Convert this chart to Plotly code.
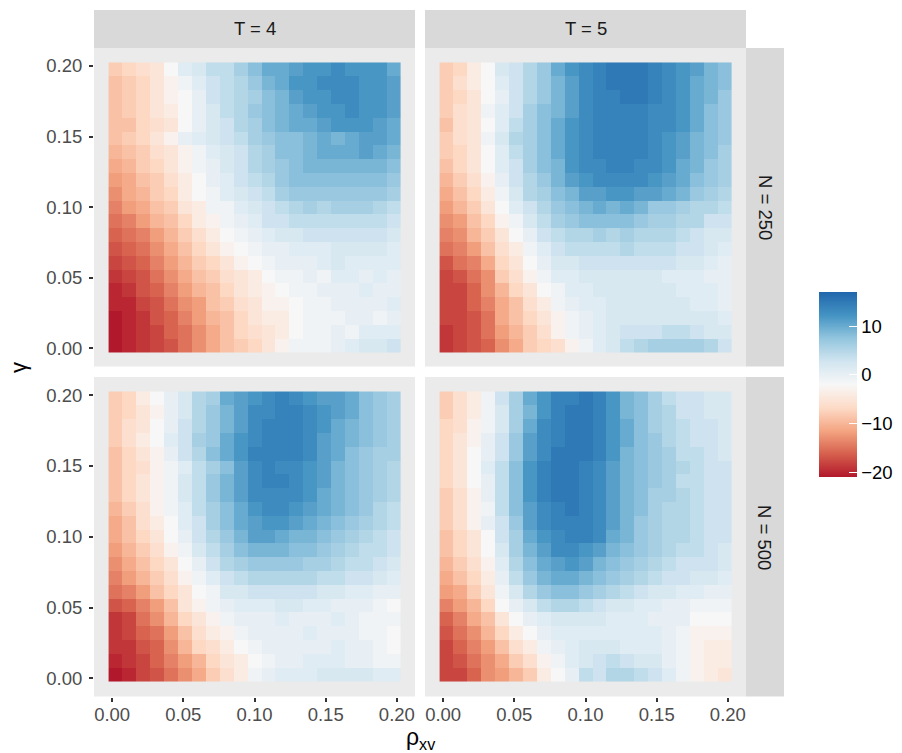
import numpy as np
import plotly.graph_objects as go

rho = [round(i * 0.01, 2) for i in range(21)]
gamma = [round(0.20 - i * 0.01, 2) for i in range(21)]

t4_n250 = [
[-8,-7,-6,-5,-2,1,2,4,4,6,8,10,10,11,12,12,13,12,12,12,10],
[-9,-8,-7,-5,-3,-1,1,3,4,5,7,9,10,12,12,13,13,13,12,12,11],
[-9,-8,-7,-5,-3,-2,0,3,4,5,6,8,9,11,12,12,13,13,12,12,11],
[-9,-8,-7,-5,-4,-2,0,2,4,5,7,8,9,10,11,12,12,13,12,12,11],
[-9,-9,-7,-6,-5,-2,0,2,3,5,6,8,9,10,10,11,12,12,12,11,10],
[-9,-8,-7,-5,-3,0,1,2,3,4,6,7,8,8,9,10,9,10,11,11,10],
[-10,-9,-8,-6,-5,-3,-1,1,2,3,5,6,8,8,9,10,10,10,11,10,9],
[-11,-10,-8,-7,-5,-3,-1,0,2,3,5,6,7,8,9,9,9,9,9,9,8],
[-12,-11,-9,-8,-6,-4,-2,0,1,3,4,5,7,8,8,8,8,8,8,8,7],
[-13,-11,-10,-8,-7,-4,-2,-1,1,2,3,4,6,7,7,7,7,7,7,7,6],
[-14,-12,-11,-9,-8,-5,-4,-1,-1,1,2,3,4,5,6,5,6,6,6,5,4],
[-15,-14,-12,-10,-9,-7,-4,-3,-1,0,1,3,3,4,4,4,4,4,4,4,3],
[-16,-15,-14,-12,-10,-8,-6,-4,-2,-1,0,1,2,2,3,3,3,3,3,3,2],
[-17,-16,-15,-13,-11,-9,-7,-5,-3,-2,-1,0,0,1,1,1,2,2,2,2,1],
[-18,-17,-16,-14,-12,-10,-8,-7,-5,-3,-2,-1,0,0,0,1,2,1,1,1,1],
[-19,-18,-17,-15,-13,-11,-9,-8,-6,-5,-4,-2,-1,-1,0,-1,1,1,0,1,0],
[-20,-19,-17,-16,-14,-12,-10,-9,-7,-5,-4,-3,-2,-1,-1,0,0,0,1,0,0],
[-20,-20,-18,-17,-15,-13,-12,-9,-8,-6,-5,-3,-3,-2,-1,-1,0,0,0,0,1],
[-21,-20,-19,-17,-16,-14,-12,-10,-9,-7,-5,-4,-4,-2,-1,-1,-1,0,0,-1,0],
[-21,-20,-19,-18,-16,-15,-13,-11,-9,-7,-6,-5,-4,-2,-1,-1,0,-1,1,1,1],
[-21,-20,-19,-18,-17,-15,-13,-11,-9,-8,-7,-5,-3,-1,-1,-1,0,1,2,2,3],
]

t5_n250 = [
[-8,-7,-4,-2,2,3,5,7,10,12,13,14,15,15,15,14,13,12,11,9,8],
[-8,-6,-4,-2,1,3,5,7,9,11,13,14,15,15,15,14,13,12,10,9,8],
[-8,-7,-5,-2,0,3,5,7,9,11,13,14,14,15,15,14,13,12,10,9,7],
[-8,-6,-5,-1,1,3,6,8,9,11,13,14,14,14,14,13,13,12,10,8,7],
[-9,-6,-5,-2,1,4,6,8,10,12,13,14,14,14,14,13,13,12,10,8,7],
[-8,-6,-5,-1,2,5,6,8,10,12,13,14,14,14,14,13,12,11,9,8,7],
[-8,-7,-5,-2,1,4,6,8,10,12,13,14,14,14,14,13,12,11,9,8,6],
[-9,-7,-5,-2,1,3,6,8,9,12,13,13,14,14,13,13,12,10,9,7,6],
[-10,-8,-6,-3,0,3,5,7,9,11,12,13,13,13,13,12,11,10,8,7,6],
[-11,-9,-7,-4,-1,2,5,6,8,9,11,11,12,12,11,11,10,9,7,6,5],
[-12,-10,-8,-5,-2,1,3,5,7,8,9,10,9,10,9,7,7,6,5,5,4],
[-13,-12,-9,-7,-3,-1,2,4,6,7,8,8,8,8,7,6,6,5,5,3,3],
[-14,-13,-10,-8,-5,-2,0,3,4,5,5,6,5,6,5,5,5,4,3,2,2],
[-15,-14,-12,-9,-6,-4,-1,1,3,4,4,4,4,5,4,4,4,3,3,2,1],
[-17,-15,-14,-11,-7,-5,-2,0,2,2,3,3,3,3,3,3,3,2,2,1,0],
[-18,-17,-15,-13,-8,-6,-3,-1,1,1,2,2,2,2,2,2,1,1,1,0,0],
[-18,-18,-16,-13,-10,-7,-5,-2,-1,1,1,2,2,2,2,2,2,1,1,1,0],
[-18,-18,-16,-14,-11,-9,-6,-4,-1,0,1,1,2,2,2,2,2,2,1,1,0],
[-18,-18,-17,-15,-11,-9,-7,-5,-3,-1,0,1,2,2,2,2,2,2,2,2,1],
[-19,-18,-17,-15,-12,-10,-8,-6,-3,-1,0,1,2,3,3,3,4,4,3,2,2],
[-19,-18,-17,-16,-13,-11,-8,-7,-6,-3,-1,1,2,4,5,6,6,6,6,5,3],
]

t4_n500 = [
[-8,-7,-4,-2,0,2,5,6,10,11,12,13,14,13,12,11,11,10,8,7,6],
[-8,-7,-5,-3,0,2,5,7,9,11,13,13,14,14,13,12,11,10,8,7,6],
[-8,-6,-5,-2,0,3,5,7,9,11,13,14,14,14,13,12,10,9,8,7,6],
[-8,-6,-4,-2,1,3,6,7,10,12,13,14,14,14,13,11,10,9,8,7,6],
[-9,-7,-5,-3,0,3,5,8,10,12,14,14,14,14,13,11,10,8,7,6,6],
[-9,-7,-6,-3,-1,1,4,6,8,11,13,14,13,13,12,11,9,8,7,6,5],
[-9,-7,-5,-3,-1,2,4,7,9,11,13,14,14,13,12,11,9,8,7,6,5],
[-9,-7,-5,-3,-1,2,4,7,9,11,13,13,13,13,12,10,9,8,7,6,5],
[-10,-8,-6,-3,-1,1,4,6,8,10,12,13,13,12,11,10,9,8,7,5,4],
[-11,-9,-6,-4,-2,1,3,6,8,10,11,12,12,11,10,9,8,7,6,5,4],
[-11,-9,-7,-5,-2,0,3,5,7,9,11,11,10,9,9,8,7,6,5,4,3],
[-12,-10,-8,-6,-3,-1,2,4,6,8,9,9,9,8,8,7,6,5,4,4,3],
[-13,-11,-9,-7,-5,-2,0,3,5,6,7,7,7,7,6,6,5,4,4,3,2],
[-14,-12,-10,-8,-6,-3,-1,1,3,4,5,5,5,5,5,4,4,3,3,2,1],
[-15,-14,-12,-9,-7,-5,-2,-1,2,2,3,3,3,3,3,2,2,1,1,0,0],
[-17,-16,-14,-12,-9,-5,-3,-1,0,1,1,1,2,2,1,1,0,0,0,-1,-2],
[-19,-18,-15,-13,-10,-7,-5,-3,-1,0,0,0,1,0,0,0,1,0,-1,-1,-1],
[-19,-18,-16,-15,-12,-9,-6,-4,-3,-1,0,0,0,0,1,0,0,0,-1,-1,-2],
[-19,-19,-17,-16,-13,-10,-7,-6,-4,-2,-1,0,0,0,0,0,1,0,0,-1,-2],
[-20,-19,-18,-16,-14,-12,-10,-7,-5,-4,-2,-1,0,0,1,1,1,0,0,-1,-1],
[-21,-20,-18,-17,-15,-13,-11,-8,-6,-4,-1,0,1,1,1,2,2,2,2,1,1],
]

t5_n500 = [
[-8,-6,-4,-1,3,6,10,12,14,14,15,14,12,9,8,6,4,3,3,2,2],
[-8,-6,-4,-1,2,6,9,12,14,15,15,14,12,9,8,6,5,3,3,2,2],
[-7,-6,-3,-1,2,6,10,13,14,15,15,14,12,10,8,6,5,4,3,3,2],
[-7,-5,-3,0,3,7,11,13,14,15,15,14,12,10,8,7,5,4,3,3,2],
[-7,-5,-2,0,3,7,11,13,15,15,15,14,12,9,8,7,6,4,4,3,2],
[-7,-5,-2,1,4,8,12,14,15,15,14,13,11,9,8,7,6,5,4,3,3],
[-7,-5,-2,0,4,8,12,14,15,15,14,13,11,9,8,7,6,4,4,3,3],
[-8,-6,-3,0,4,8,12,14,15,15,14,13,11,9,8,6,6,5,4,3,3],
[-8,-6,-3,-1,4,8,11,13,14,15,14,13,11,9,8,6,5,5,4,3,3],
[-8,-6,-3,0,3,7,11,13,14,14,14,13,11,9,7,6,5,5,4,3,3],
[-9,-7,-5,-2,3,6,10,12,13,14,14,13,10,9,7,6,5,5,4,3,3],
[-9,-7,-5,-2,2,6,9,11,13,13,12,11,9,8,7,6,5,4,4,3,2],
[-10,-8,-6,-3,1,5,8,10,11,12,11,9,8,7,6,5,4,3,3,3,2],
[-11,-9,-7,-4,0,4,7,9,10,10,9,8,7,6,5,4,3,3,2,2,1],
[-12,-11,-8,-5,-1,2,5,7,8,8,7,6,5,4,3,2,2,1,1,0,0],
[-14,-12,-10,-7,-2,0,2,4,5,5,4,3,2,2,1,1,0,0,-1,-1,-1],
[-16,-14,-11,-9,-5,-2,0,1,2,2,2,2,1,1,1,0,0,0,-2,-2,-2],
[-17,-15,-13,-10,-7,-4,-2,0,1,1,1,1,1,1,1,1,0,-1,-3,-3,-3],
[-18,-16,-14,-12,-9,-6,-4,-1,0,1,2,2,2,1,1,1,0,-1,-3,-4,-4],
[-18,-17,-15,-13,-11,-8,-6,-3,-1,1,2,3,4,3,2,2,0,-1,-3,-4,-4],
[-18,-18,-16,-13,-12,-10,-8,-4,-2,0,4,3,5,5,4,3,1,-1,-3,-4,-5],
]

W, H = 902, 753
FONT = "Liberation Sans"
RDBU = ["#b2182b", "#d6604d", "#f4a582", "#fddbc7", "#f7f7f7",
        "#d1e5f0", "#92c5de", "#4393c3", "#2166ac"]
ZMIN, ZMAX = -21, 17

def px(x): return x / W
def py(y): return 1 - y / H

col_px = [(94, 415), (425, 746)]
row_px = [(48, 366.5), (377, 696.5)]
x_edges = np.linspace(-0.0025, 0.2025, len(rho) + 1)
y_edges = np.linspace(0.2025, -0.0025, len(gamma) + 1)
AX_RANGE = [-0.01275, 0.21275]

panels = [(t4_n250, 0, 0), (t5_n250, 0, 1), (t4_n500, 1, 0), (t5_n500, 1, 1)]

fig = go.Figure()
layout_axes = {}
for i, (z, r, c) in enumerate(panels):
    s = "" if i == 0 else str(i + 1)
    fig.add_trace(go.Heatmap(
        z=z, x=x_edges, y=y_edges, coloraxis="coloraxis",
        xaxis="x" + s, yaxis="y" + s, hoverongaps=False))
    layout_axes["xaxis" + s] = dict(
        domain=[px(col_px[c][0]), px(col_px[c][1])], range=AX_RANGE,
        anchor="y" + s, tickvals=[0, 0.05, 0.10, 0.15, 0.20], tickformat=".2f",
        showgrid=False, zeroline=False, ticks="outside" if r == 1 else "",
        ticklen=4, tickwidth=1.5, tickcolor="#333333", showticklabels=r == 1,
        ticklabelstandoff=-3,
        tickfont=dict(family=FONT, size=18.5, color="#4D4D4D"))
    layout_axes["yaxis" + s] = dict(
        domain=[py(row_px[r][1]), py(row_px[r][0])], range=AX_RANGE,
        anchor="x" + s, tickvals=[0, 0.05, 0.10, 0.15, 0.20], tickformat=".2f",
        showgrid=False, zeroline=False, ticks="outside" if c == 0 else "",
        ticklen=4, tickwidth=1.5, tickcolor="#333333", showticklabels=c == 0,
        ticklabelstandoff=3,
        tickfont=dict(family=FONT, size=18.5, color="#4D4D4D"))

shapes = []
def rect(x0, x1, y0, y1, fill="#D9D9D9"):
    shapes.append(dict(type="rect", xref="paper", yref="paper", layer="below",
                       x0=px(x0), x1=px(x1), y0=py(y1), y1=py(y0),
                       fillcolor=fill, line_width=0))
for x0, x1 in col_px:
    rect(x0, x1, 10, 48)
for y0, y1 in row_px:
    rect(746, 784, y0, y1)

CB_TOP, CB_BOT = 292, 477
CB_L, CB_R = 819, 857
for v in [-20, -10, 0, 10]:
    yy = CB_BOT - (v - ZMIN) / (ZMAX - ZMIN) * (CB_BOT - CB_TOP)
    shapes.append(dict(type="line", xref="paper", yref="paper", layer="above",
                       x0=px(CB_L), x1=px(CB_L + 7.5), y0=py(yy), y1=py(yy),
                       line=dict(color="white", width=1)))

def note(x, y, text, size=18.5, angle=0, color="#1A1A1A"):
    return dict(xref="paper", yref="paper", x=px(x), y=py(y), text=text,
                showarrow=False, textangle=angle, xanchor="center", yanchor="middle",
                font=dict(family=FONT, size=size, color=color))

annotations = [
    note(254.5, 29, "T = 4"),
    note(585.5, 29, "T = 5"),
    note(765, 207, "N = 250", angle=90),
    note(765, 537, "N = 500", angle=90),
    note(420, 738, "ρ<sub>xv</sub>", size=23, color="black"),
    note(18, 368, "γ", size=22, angle=-90, color="black"),
]

fig.update_layout(
    width=W, height=H, margin=dict(l=0, r=0, t=0, b=0, autoexpand=False),
    paper_bgcolor="white", plot_bgcolor="#EBEBEB",
    shapes=shapes, annotations=annotations, showlegend=False,
    coloraxis=dict(
        cmin=ZMIN, cmax=ZMAX,
        colorscale=[[k / (len(RDBU) - 1), col] for k, col in enumerate(RDBU)],
        colorbar=dict(
            thicknessmode="pixels", thickness=CB_R - CB_L,
            lenmode="pixels", len=CB_BOT - CB_TOP,
            x=px(CB_L), xanchor="left", xpad=0,
            y=py(CB_BOT), yanchor="bottom", ypad=0,
            outlinewidth=0, ticks="inside", ticklen=7.5, tickwidth=1, tickcolor="white",
            tickvals=[-20, -10, 0, 10], tickfont=dict(family=FONT, size=18.5, color="black"))),
    **layout_axes)
fig.write_html("out.html", config={"displayModeBar": False},
               post_script="document.body.style.margin='0';document.documentElement.style.overflow='hidden';")
